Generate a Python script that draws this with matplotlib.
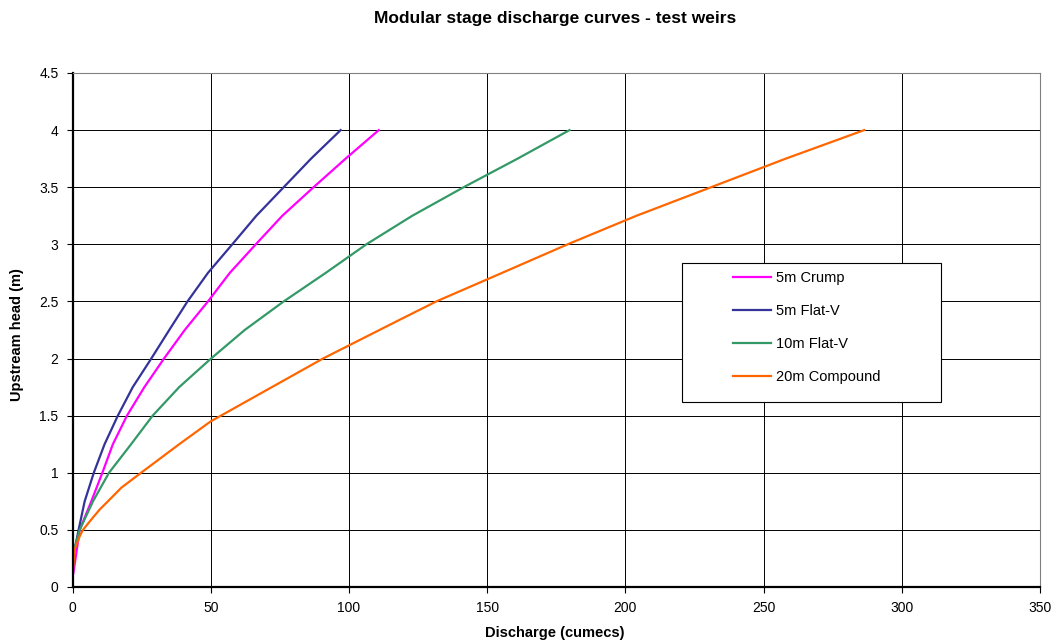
import matplotlib
matplotlib.use("Agg")
import matplotlib.pyplot as plt
from matplotlib.patches import Rectangle

plt.rcParams['font.family'] = ['Liberation Sans', 'DejaVu Sans']

# 5m Crump
crump_h = [0.12, 0.25, 0.5, 0.75, 1.0, 1.25, 1.5, 1.75, 2.0, 2.25, 2.5, 2.75, 3.0, 3.25, 3.5, 3.75, 4.0]
crump_q = [0.3, 1.1, 2.6, 6.8, 10.8, 14.6, 19.7, 26.0, 33.1, 40.6, 49.0, 56.9, 66.3, 75.9, 87.2, 98.8, 110.8]

# 5m Flat-V
flatv5_h = [0.27, 0.33, 0.5, 0.75, 1.0, 1.25, 1.5, 1.75, 2.0, 2.25, 2.5, 2.75, 3.0, 3.25, 3.5, 3.75, 4.0]
flatv5_q = [0.2, 0.8, 2.2, 4.4, 7.7, 11.6, 16.4, 21.8, 28.5, 35.0, 41.6, 49.0, 57.8, 66.5, 76.4, 86.3, 97.0]

# 10m Flat-V
flatv10_h = [0.3, 0.5, 0.75, 1.0, 1.25, 1.5, 1.75, 2.0, 2.25, 2.5, 2.75, 3.0, 3.25, 3.5, 3.75, 4.0]
flatv10_q = [0.3, 2.6, 7.4, 13.2, 21.2, 29.0, 38.6, 50.1, 62.3, 76.4, 91.6, 106.3, 122.9, 141.5, 161.0, 179.8]

# 20m Compound
comp_h = [0.1, 0.33, 0.45, 0.5, 0.54, 0.62, 0.68, 0.75, 0.87, 1.0, 1.25, 1.45, 1.69, 2.0, 2.34, 2.5, 2.75, 3.0, 3.25, 3.5, 3.75, 4.0]
comp_q = [0.0, 0.8, 2.7, 3.8, 5.1, 7.8, 9.9, 12.8, 17.7, 24.8, 38.6, 50.0, 67.7, 90.6, 118.4, 131.6, 155.4, 179.1, 204.0, 231.0, 258.0, 286.4]

x_ticks = [0, 50, 100, 150, 200, 250, 300, 350]
y_ticks = [0, 0.5, 1, 1.5, 2, 2.5, 3, 3.5, 4, 4.5]
y_labels = ['0', '0.5', '1', '1.5', '2', '2.5', '3', '3.5', '4', '4.5']

W, H = 1055, 643
fig = plt.figure(figsize=(W/100, H/100), dpi=100)
ax = fig.add_axes([72.5/W, 1-587/H, (1040-72.5)/W, (587-73)/H])

ax.plot(crump_q, crump_h, color='#FF00FF', lw=1.6, label='5m Crump')
ax.plot(flatv5_q, flatv5_h, color='#333399', lw=1.6, label='5m Flat-V')
ax.plot(flatv10_q, flatv10_h, color='#339966', lw=1.6, label='10m Flat-V')
ax.plot(comp_q, comp_h, color='#FF6600', lw=1.6, label='20m Compound')

ax.set_xlim(0, 350)
ax.set_ylim(0, 4.5)
ax.set_xticks(x_ticks)
ax.set_yticks(y_ticks)
ax.set_yticklabels(y_labels)
ax.grid(True, color='black', lw=0.7)
ax.set_axisbelow(True)
for s in ['top', 'right']:
    ax.spines[s].set_color('#808080')
    ax.spines[s].set_linewidth(0.8)
for s in ['left', 'bottom']:
    ax.spines[s].set_color('black')
    ax.spines[s].set_linewidth(1.6)
ax.tick_params(direction='out', length=4, width=0.8, labelsize=10, pad=6)

fig.text(555/W, 1-633/H, 'Discharge (cumecs)', ha='center', va='center',
         fontsize=10.5, fontweight='bold')
fig.text(17/W, 1-335/H, 'Upstream head (m)', ha='center', va='center',
         rotation=90, fontsize=10.5, fontweight='bold')
fig.text(555/W, 1-18/H, 'Modular stage discharge curves - test weirs',
         ha='center', va='center', fontsize=12.5, fontweight='bold')

# legend frame
to_ax = lambda px, py: ((px - 72.5) / (1040 - 72.5), (587 - py) / (587 - 73))
x0, y0 = to_ax(682, 402)
x1, y1 = to_ax(941, 263)
ax.add_patch(Rectangle((x0, y0), x1 - x0, y1 - y0, transform=ax.transAxes,
                       facecolor='white', edgecolor='black', lw=0.8, zorder=5))
lx, ly = to_ax(733, 271)
leg = ax.legend(loc='upper left', bbox_to_anchor=(lx, ly), fontsize=10.5,
                frameon=False, labelspacing=1.3, handlelength=2.6,
                handletextpad=0.35, borderpad=0, borderaxespad=0)
leg.set_zorder(6)

fig.savefig('out.png', dpi=100)
